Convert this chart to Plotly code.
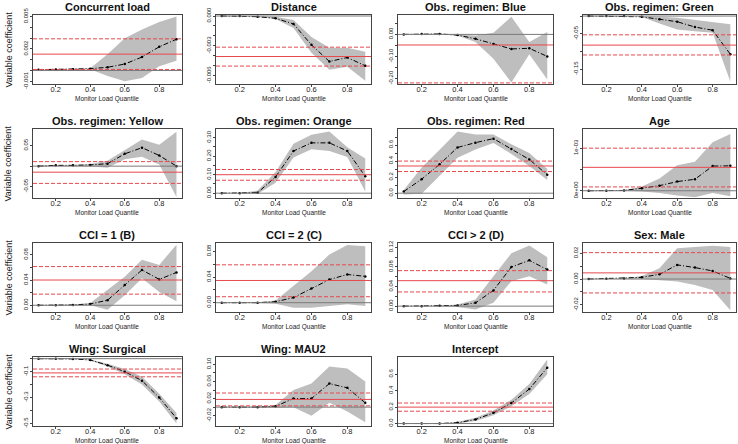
import plotly.graph_objects as go

# monitor load quantiles (x axis of every panel)
quantiles = [0.1, 0.2, 0.3, 0.4, 0.5, 0.6, 0.7, 0.8, 0.9]

# ---- per-variable quantile coefficients, band (lo/hi), global coef + CI ----
conc_coef = [0.00008, 0.0001, 0.00012, 0.00017, 0.0003, 0.0006, 0.00125, 0.0022, 0.0029]
conc_hi = [0.0001, 0.00012, 0.00014, 0.0002, 0.0015, 0.003, 0.0038, 0.0045, 0.005]
conc_lo = [0.00006, 0.00008, 0.0001, 0.00012, -0.0005, -0.001, -0.0007, 0.0004, 0.0009]
conc_glob = [0.00152, 0.0001, 0.00294]

dist_coef = [0, 0, -0.00007, -0.00023, -0.0008, -0.0029, -0.00457, -0.00417, -0.005]
dist_hi = [0, 0, -0.00005, -0.00007, -0.0004, -0.0021, -0.0032, -0.0032, -0.0036]
dist_lo = [0, 0, -0.0001, -0.0003, -0.0012, -0.0037, -0.0054, -0.0051, -0.0065]
dist_glob = [-0.00407, -0.00503, -0.00313]

blue_coef = [0, 0.002, 0.002, -0.003, -0.02, -0.043, -0.066, -0.063, -0.1]
blue_hi = [0.001, 0.003, 0.003, 0, -0.005, 0.008, 0.08, -0.035, 0.011]
blue_lo = [-0.001, 0.001, 0.001, -0.006, -0.035, -0.11, -0.218, -0.09, -0.205]
blue_glob = [-0.048, -0.22, 0.124]

green_coef = [0, 0, 0, -0.002, -0.009, -0.016, -0.031, -0.04, -0.108]
green_hi = [0, 0, 0, -0.001, -0.002, -0.005, -0.011, -0.019, -0.023]
green_lo = [0, 0, 0, -0.003, -0.021, -0.038, -0.043, -0.047, -0.185]
green_glob = [-0.082, -0.11, -0.053]

yellow_coef = [0, 0.002, 0.002, 0.003, 0.006, 0.03, 0.045, 0.026, 0.0]
yellow_hi = [0.001, 0.003, 0.003, 0.005, 0.013, 0.04, 0.065, 0.052, 0.084]
yellow_lo = [-0.001, 0.001, 0.001, 0.0, -0.004, 0.017, 0.023, 0.004, -0.075]
yellow_glob = [-0.0147, -0.042, 0.011]

orange_coef = [0, 0, 0.003, 0.088, 0.228, 0.272, 0.272, 0.228, 0.091]
orange_hi = [0, 0, 0.014, 0.114, 0.267, 0.316, 0.333, 0.249, 0.188]
orange_lo = [0, 0, -0.004, 0.056, 0.193, 0.237, 0.228, 0.196, 0.009]
orange_glob = [0.1, 0.07, 0.128]

red_coef = [0.02, 0.175, 0.36, 0.57, 0.63, 0.68, 0.55, 0.42, 0.23]
red_hi = [0.04, 0.32, 0.54, 0.77, 0.73, 0.73, 0.61, 0.50, 0.30]
red_lo = [-0.016, -0.008, 0.216, 0.441, 0.543, 0.624, 0.489, 0.339, 0.163]
red_glob = [0.339, 0.27, 0.4]

age_coef = [0, 0, 0.000008, 0.00006, 0.00012, 0.000215, 0.00027, 0.00058, 0.000585]
age_hi = [0, 0, 0.00001, 0.0001, 0.00029, 0.0006, 0.00068, 0.00114, 0.00133]
age_lo = [0, 0, 0, -0.000015, -0.00005, -0.00011, -0.00015, -0.00005, -0.00013]
age_glob = [0.00055, 0.00009, 0.001]

cci1_coef = [0, 0, 0.0005, 0.002, 0.008, 0.032, 0.056, 0.041, 0.052]
cci1_hi = [0, 0, 0.001, 0.0037, 0.024, 0.045, 0.072, 0.064, 0.096]
cci1_lo = [0, 0, 0, 0, -0.007, 0.016, 0.043, 0.021, 0.0064]
cci1_glob = [0.04, 0.0176, 0.0613]

cci2_coef = [0, 0, 0, 0.0015, 0.008, 0.022, 0.036, 0.044, 0.041]
cci2_hi = [0, 0, 0.0005, 0.0036, 0.026, 0.049, 0.075, 0.09, 0.088]
cci2_lo = [0, 0, -0.0005, -0.0015, -0.0077, -0.0077, -0.005, -0.0026, -0.005]
cci2_glob = [0.0346, 0.0093, 0.059]

cci3_coef = [0, 0, 0.0007, 0.0014, 0.0068, 0.032, 0.08, 0.0935, 0.0746]
cci3_hi = [0, 0, 0.001, 0.0034, 0.0136, 0.061, 0.108, 0.124, 0.10]
cci3_lo = [0, 0, 0, -0.002, -0.0068, 0.0068, 0.051, 0.061, 0.044]
cci3_glob = [0.052, 0.029, 0.0725]

sex_coef = [0, 0.0003, 0.0005, 0.0013, 0.0037, 0.011, 0.0089, 0.0063, 0.0005]
sex_hi = [0, 0.0004, 0.0007, 0.0024, 0.0084, 0.024, 0.025, 0.0259, 0.0248]
sex_lo = [0, 0.0002, 0.0003, 0, -0.0008, -0.002, -0.0047, -0.0086, -0.0243]
sex_glob = [0.0048, -0.0108, 0.0205]

surg_coef = [0, 0, -0.002, -0.01, -0.05, -0.1, -0.17, -0.3, -0.46]
surg_hi = [0, 0, -0.001, -0.006, -0.04, -0.08, -0.14, -0.27, -0.42]
surg_lo = [0, 0, -0.003, -0.014, -0.06, -0.12, -0.2, -0.33, -0.5]
surg_glob = [-0.11, -0.14, -0.08]

mau2_coef = [0, 0, 0, 0.002, 0.02, 0.02, 0.055, 0.045, 0.01]
mau2_hi = [0, 0, 0.001, 0.005, 0.04, 0.055, 0.095, 0.09, 0.06]
mau2_lo = [0, 0, -0.001, -0.002, 0.0, -0.02, 0.01, -0.01, -0.035]
mau2_glob = [0.018, 0.003, 0.033]

icpt_coef = [0, 0, 0, 0.01, 0.05, 0.13, 0.25, 0.42, 0.68]
icpt_hi = [0, 0, 0.002, 0.02, 0.07, 0.16, 0.29, 0.48, 0.78]
icpt_lo = [0, 0, -0.002, 0.0, 0.03, 0.1, 0.21, 0.36, 0.6]
icpt_glob = [0.2, 0.15, 0.25]

# y tick positions / labels (R drops labels that would overlap)
x_ticks = [0.2, 0.4, 0.6, 0.8]
conc_ticks = ([-0.001, 0, 0.001, 0.002, 0.003, 0.004, 0.005], ["-0.001", "", "", "0.002", "", "", "0.005"])
dist_ticks = ([0, -0.001, -0.002, -0.003, -0.004, -0.005, -0.006], ["0.000", "", "", "-0.003", "", "", "-0.006"])
blue_ticks = ([0.05, 0, -0.05, -0.10, -0.15, -0.20], ["", "0.00", "", "-0.10", "", "-0.20"])
green_ticks = ([0, -0.05, -0.10, -0.15], ["", "-0.05", "", "-0.15"])
yellow_ticks = ([-0.05, 0, 0.05], ["-0.05", "", "0.05"])
orange_ticks = ([0, 0.05, 0.10, 0.15, 0.20, 0.25, 0.30], ["0.00", "", "0.10", "", "0.20", "", "0.30"])
red_ticks = ([0, 0.1, 0.2, 0.3, 0.4, 0.5, 0.6, 0.7], ["0.0", "", "0.2", "", "0.4", "", "0.6", ""])
age_ticks = ([0, 0.0005, 0.001], ["0e+00", "", "1e-03"])
cci1_ticks = ([0, 0.02, 0.04, 0.06, 0.08], ["0.00", "", "0.04", "", "0.08"])
cci2_ticks = ([0, 0.02, 0.04, 0.06, 0.08], ["0.00", "", "0.04", "", "0.08"])
cci3_ticks = ([0, 0.02, 0.04, 0.06, 0.08, 0.10, 0.12], ["0.00", "", "0.04", "", "0.08", "", "0.12"])
sex_ticks = ([-0.02, -0.01, 0, 0.01, 0.02], ["-0.02", "", "0.00", "", "0.02"])
surg_ticks = ([0, -0.1, -0.2, -0.3, -0.4, -0.5], ["", "-0.1", "", "-0.3", "", "-0.5"])
mau2_ticks = ([-0.02, 0, 0.02, 0.04, 0.06, 0.08, 0.10], ["-0.02", "", "0.02", "", "0.06", "", "0.10"])
icpt_ticks = ([0, 0.2, 0.4, 0.6], ["0.0", "0.2", "0.4", "0.6"])

panels = [
    ("Concurrent load", conc_coef, conc_lo, conc_hi, conc_glob, [-0.00125, 0.00515], conc_ticks),
    ("Distance", dist_coef, dist_lo, dist_hi, dist_glob, [-0.00683, 0.0001], dist_ticks),
    ("Obs. regimen: Blue", blue_coef, blue_lo, blue_hi, blue_glob, [-0.225, 0.088], blue_ticks),
    ("Obs. regimen: Green", green_coef, green_lo, green_hi, green_glob, [-0.192, 0.003], green_ticks),
    ("Obs. regimen: Yellow", yellow_coef, yellow_lo, yellow_hi, yellow_glob, [-0.0776, 0.0905], yellow_ticks),
    ("Obs. regimen: Orange", orange_coef, orange_lo, orange_hi, orange_glob, [-0.026, 0.347], orange_ticks),
    ("Obs. regimen: Red", red_coef, red_lo, red_hi, red_glob, [-0.06, 0.8], red_ticks),
    ("Age", age_coef, age_lo, age_hi, age_glob, [-0.00017, 0.00145], age_ticks),
    ("CCI = 1 (B)", cci1_coef, cci1_lo, cci1_hi, cci1_glob, [-0.0107, 0.0987], cci1_ticks),
    ("CCI = 2 (C)", cci2_coef, cci2_lo, cci2_hi, cci2_glob, [-0.0145, 0.093], cci2_ticks),
    ("CCI > 2 (D)", cci3_coef, cci3_lo, cci3_hi, cci3_glob, [-0.012, 0.129], cci3_ticks),
    ("Sex: Male", sex_coef, sex_lo, sex_hi, sex_glob, [-0.0256, 0.028], sex_ticks),
    ("Wing: Surgical", surg_coef, surg_lo, surg_hi, surg_glob, [-0.52, 0.013], surg_ticks),
    ("Wing: MAU2", mau2_coef, mau2_lo, mau2_hi, mau2_glob, [-0.044, 0.117], mau2_ticks),
    ("Intercept", icpt_coef, icpt_lo, icpt_hi, icpt_glob, [-0.03, 0.81], icpt_ticks),
]

W, H = 738, 444
col_px = [(33, 182), (216, 371), (398, 553), (583, 736)]
row_px = [(15, 84), (129, 198), (243, 312), (357, 426)]

FONT = "Liberation Sans, Arial, sans-serif"
RED = "#e8484d"
fig = go.Figure()
layout = {}
shapes, annotations = [], []

for i, (title, coef, lo, hi, glob, yr, (tv, tt)) in enumerate(panels):
    r, c = divmod(i, 4)
    n = "" if i == 0 else str(i + 1)
    x0, x1 = col_px[c]
    y0, y1 = row_px[r]

    # grey confidence band
    fig.add_trace(go.Scatter(
        x=quantiles + quantiles[::-1], y=hi + lo[::-1],
        fill="toself", fillcolor="#bebebe", line=dict(width=0),
        mode="lines", xaxis="x" + n, yaxis="y" + n,
        hoverinfo="skip", showlegend=False))
    # quantile coefficient path
    fig.add_trace(go.Scatter(
        x=quantiles, y=coef, mode="lines+markers",
        line=dict(color="black", width=1, dash="5px,2px,1px,2px"),
        marker=dict(size=2.5, color="black"),
        xaxis="x" + n, yaxis="y" + n, showlegend=False))

    xref_dom = "x" + n + " domain"
    # global coefficient + CI
    shapes.append(dict(type="line", xref=xref_dom, yref="y" + n, x0=0, x1=1,
                       y0=glob[0], y1=glob[0], line=dict(color=RED, width=1)))
    for g in glob[1:]:
        shapes.append(dict(type="line", xref=xref_dom, yref="y" + n, x0=0, x1=1,
                           y0=g, y1=g, line=dict(color=RED, width=1, dash="4px,2px")))
    # zero line (drawn last, on top)
    shapes.append(dict(type="line", xref=xref_dom, yref="y" + n, x0=0, x1=1,
                       y0=0, y1=0, line=dict(color="#7a7a7a", width=1)))

    layout["xaxis" + n] = dict(
        domain=[x0 / W, x1 / W], anchor="y" + n, range=[0.068, 0.932], automargin=False,
        tickvals=x_ticks, ticktext=["0.2", "0.4", "0.6", "0.8"],
        ticks="outside", ticklen=2, tickcolor="#444", showgrid=False, zeroline=False,
        showline=True, mirror=True, linecolor="#444", linewidth=1,
        ticklabelstandoff=-4,
        tickfont=dict(size=7.5, color="#222", family=FONT))
    layout["yaxis" + n] = dict(
        domain=[1 - y1 / H, 1 - y0 / H], anchor="x" + n, range=yr, automargin=False,
        tickvals=tv, ticktext=tt, tickangle=-90,
        ticks="outside", ticklen=2, tickcolor="#444", showgrid=False, zeroline=False,
        showline=True, mirror=True, linecolor="#444", linewidth=1,
        tickfont=dict(size=6, color="#222", family=FONT))

    annotations.append(dict(text="<b>" + title + "</b>", x=(x0 + x1) / 2 / W, y=1 - (y0 - 8) / H,
                            xref="paper", yref="paper", showarrow=False,
                            font=dict(size=11, color="#111", family=FONT),
                            xanchor="center", yanchor="middle"))
    annotations.append(dict(text="Monitor Load Quantile", x=(x0 + x1) / 2 / W, y=1 - (y1 + 15) / H,
                            xref="paper", yref="paper", showarrow=False,
                            font=dict(size=6.5, color="#222", family=FONT),
                            xanchor="center", yanchor="middle"))
    if c == 0:
        annotations.append(dict(text="Variable coefficient", x=8 / W, y=1 - (y0 + y1) / 2 / H,
                                xref="paper", yref="paper", showarrow=False, textangle=-90,
                                font=dict(size=9, color="#222", family=FONT),
                                xanchor="center", yanchor="middle"))

fig.update_layout(
    width=W, height=H, margin=dict(l=0, r=0, t=0, b=0),
    paper_bgcolor="white", plot_bgcolor="white",
    font=dict(family=FONT),
    shapes=shapes, annotations=annotations, **layout)

# drop the browser's default 8px body margin so the figure sits at the window origin
fig.write_html("out.html", config={"displayModeBar": False},
               post_script="document.body.style.margin = '0';")
